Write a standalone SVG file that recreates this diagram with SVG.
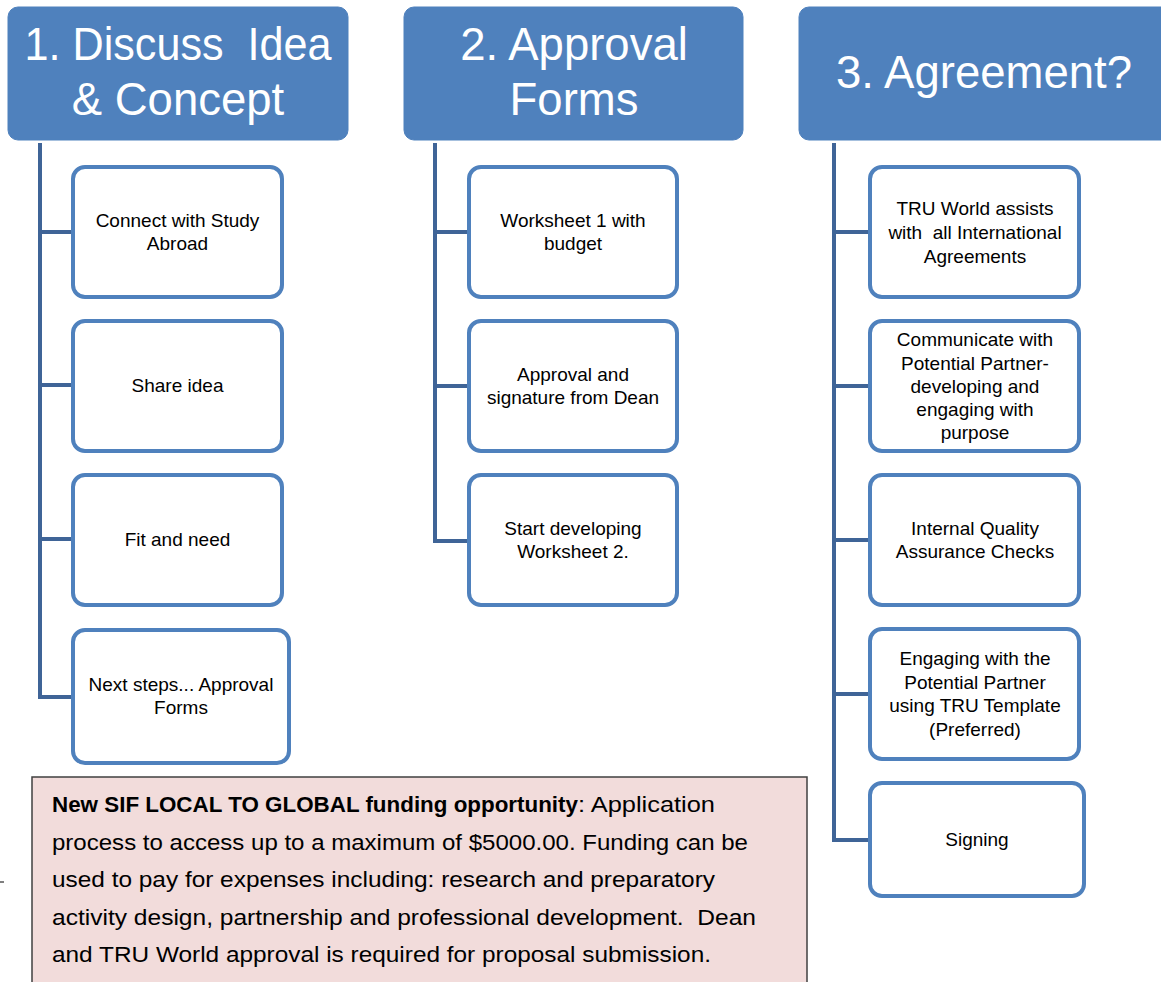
<svg xmlns="http://www.w3.org/2000/svg" width="1161" height="982" viewBox="0 0 1161 982">
<style>
.hdr{fill:#4F81BD;stroke:#4F81BD;stroke-width:1}
.htxt{font-family:"Liberation Sans",Arial,sans-serif;font-size:45.5px;fill:#FFFFFF;text-anchor:middle;white-space:pre}
.box{fill:#FFFFFF;stroke:#4F81BD;stroke-width:4}
.btxt{font-family:"Liberation Sans",Arial,sans-serif;font-size:19px;fill:#000000;text-anchor:middle;white-space:pre}
.conn{fill:none;stroke:#3F6497;stroke-width:4;stroke-linejoin:miter}
.note{fill:#F2DCDB;stroke:#404040;stroke-width:1.5}
.ntxt{font-family:"Liberation Sans",Arial,sans-serif;font-size:21.5px;fill:#000000;white-space:pre}
</style>
<rect width="1161" height="982" fill="#FFFFFF"/>
<g id="connectors">
<path class="conn" d="M40,143 V697 H75 M40,232 H75 M40,385 H75 M40,539 H75"/>
<path class="conn" d="M435,143 V541 H471 M435,232 H471 M435,386 H471"/>
<path class="conn" d="M834,143 V840 H872 M834,232 H872 M834,386 H872 M834,540 H872 M834,694 H872"/>
</g>
<g id="header1">
<rect class="hdr" x="8" y="7" width="340" height="133" rx="10"/>
<text class="htxt" x="178" y="60" xml:space="preserve" textLength="307" lengthAdjust="spacingAndGlyphs">1. Discuss  Idea</text>
<text class="htxt" x="178" y="115">&amp; Concept</text>
</g>
<g id="header2">
<rect class="hdr" x="404" y="7" width="339" height="133" rx="10"/>
<text class="htxt" x="574" y="60">2. Approval</text>
<text class="htxt" x="574" y="115">Forms</text>
</g>
<g id="header3">
<rect class="hdr" x="799" y="7" width="380" height="133" rx="10"/>
<text class="htxt" x="984" y="88">3. Agreement?</text>
</g>
<g id="c1b1">
<rect class="box" x="73" y="167" width="209" height="130" rx="12"/>
<text class="btxt" x="177.5" y="227">Connect with Study</text>
<text class="btxt" x="177.5" y="250">Abroad</text>
</g>
<g id="c1b2">
<rect class="box" x="73" y="321" width="209" height="130" rx="12"/>
<text class="btxt" x="177.5" y="392">Share idea</text>
</g>
<g id="c1b3">
<rect class="box" x="73" y="475" width="209" height="130" rx="12"/>
<text class="btxt" x="177.5" y="546">Fit and need</text>
</g>
<g id="c1b4">
<rect class="box" x="73" y="630" width="216" height="133" rx="12"/>
<text class="btxt" x="181" y="691">Next steps... Approval</text>
<text class="btxt" x="181" y="714">Forms</text>
</g>
<g id="c2b1">
<rect class="box" x="469" y="167" width="208" height="130" rx="12"/>
<text class="btxt" x="573" y="227">Worksheet 1 with</text>
<text class="btxt" x="573" y="250">budget</text>
</g>
<g id="c2b2">
<rect class="box" x="469" y="321" width="208" height="130" rx="12"/>
<text class="btxt" x="573" y="381">Approval and</text>
<text class="btxt" x="573" y="404">signature from Dean</text>
</g>
<g id="c2b3">
<rect class="box" x="469" y="475" width="208" height="130" rx="12"/>
<text class="btxt" x="573" y="535">Start developing</text>
<text class="btxt" x="573" y="558">Worksheet 2.</text>
</g>
<g id="c3b1">
<rect class="box" x="870" y="167" width="209" height="130" rx="12"/>
<text class="btxt" x="975" y="215">TRU World assists</text>
<text class="btxt" x="975" y="239" xml:space="preserve">with  all International</text>
<text class="btxt" x="975" y="263">Agreements</text>
</g>
<g id="c3b2">
<rect class="box" x="870" y="321" width="209" height="130" rx="12"/>
<text class="btxt" x="975" y="346">Communicate with</text>
<text class="btxt" x="975" y="369.5">Potential Partner-</text>
<text class="btxt" x="975" y="393">developing and</text>
<text class="btxt" x="975" y="416">engaging with</text>
<text class="btxt" x="975" y="439">purpose</text>
</g>
<g id="c3b3">
<rect class="box" x="870" y="475" width="209" height="130" rx="12"/>
<text class="btxt" x="975" y="535">Internal Quality</text>
<text class="btxt" x="975" y="558">Assurance Checks</text>
</g>
<g id="c3b4">
<rect class="box" x="870" y="629" width="209" height="130" rx="12"/>
<text class="btxt" x="975" y="665">Engaging with the</text>
<text class="btxt" x="975" y="688.5">Potential Partner</text>
<text class="btxt" x="975" y="712">using TRU Template</text>
<text class="btxt" x="975" y="735.5">(Preferred)</text>
</g>
<g id="c3b5">
<rect class="box" x="870" y="783" width="214" height="113" rx="12"/>
<text class="btxt" x="977" y="846">Signing</text>
</g>
<g id="note">
<rect class="note" x="32" y="777" width="775" height="215"/>
<text class="ntxt" x="52" y="812" font-weight="bold" textLength="526" lengthAdjust="spacingAndGlyphs">New SIF LOCAL TO GLOBAL funding opportunity</text>
<text class="ntxt" x="578" y="812" textLength="137" lengthAdjust="spacingAndGlyphs">: Application</text>
<text class="ntxt" x="52" y="849.5" textLength="696" lengthAdjust="spacingAndGlyphs">process to access up to a maximum of $5000.00. Funding can be</text>
<text class="ntxt" x="52" y="887" textLength="663" lengthAdjust="spacingAndGlyphs">used to pay for expenses including: research and preparatory</text>
<text class="ntxt" x="52" y="924.5" xml:space="preserve" textLength="704" lengthAdjust="spacingAndGlyphs">activity design, partnership and professional development.  Dean</text>
<text class="ntxt" x="52" y="962" textLength="659" lengthAdjust="spacingAndGlyphs">and TRU World approval is required for proposal submission.</text>
</g>
<line x1="0" y1="882" x2="4" y2="882" stroke="#000000" stroke-width="1"/>
</svg>
